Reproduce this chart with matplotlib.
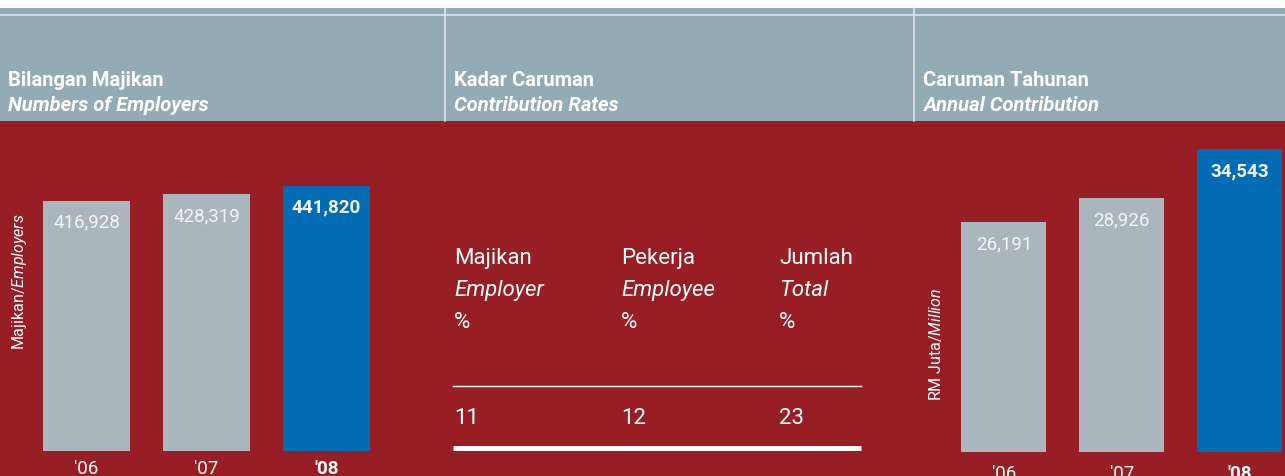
import matplotlib
matplotlib.use("Agg")
import matplotlib.pyplot as plt
from matplotlib.patches import Rectangle

# data
years = ["'06", "'07", "'08"]
employers = [416928, 428319, 441820]
contribution = [26191, 28926, 34543]
rate_heads_my = ["Majikan", "Pekerja", "Jumlah"]
rate_heads_en = ["Employer", "Employee", "Total"]
rates = [11, 12, 23]

# colours
RED = "#971e25"
HEAD = "#94aab4"
GREY = "#a9b6bd"
BLUE = "#016cb4"
LINE = "#dde4e7"

plt.rcParams["font.family"] = ["Roboto", "DejaVu Sans"]
plt.rcParams["mathtext.fontset"] = "custom"
plt.rcParams["mathtext.rm"] = "Roboto"
plt.rcParams["mathtext.it"] = "Roboto:italic"

W, H = 1285, 477
fig = plt.figure(figsize=(W / 100, H / 100), dpi=100)


def box(x0, y0, x1, y1):
    # pixel box -> figure fraction
    return [x0 / W, 1 - y1 / H, (x1 - x0) / W, (y1 - y0) / H]


# background in pixel coordinates
bg = fig.add_axes([0, 0, 1, 1])
bg.set_xlim(0, W)
bg.set_ylim(H, 0)
bg.axis("off")
bg.add_patch(Rectangle((0, 9), W, 113, color=HEAD, lw=0))
bg.add_patch(Rectangle((0, 122), W, H - 122, color=RED, lw=0))
bg.plot([0, W], [16, 16], color=LINE, lw=1.2)
for xv in [445, 914]:
    bg.plot([xv, xv], [9, 122], color=LINE, lw=1.2)

# header titles
titles = [(8, "Bilangan Majikan", "Numbers of Employers"),
          (454, "Kadar Caruman", "Contribution Rates"),
          (923, "Caruman Tahunan", "Annual Contribution")]
for x, my, en in titles:
    bg.text(x, 86, my, color="white", fontsize=14.5, fontweight="bold", va="baseline")
    bg.text(x, 111, en, color="white", fontsize=14.5, fontweight="bold",
            style="italic", va="baseline")

# contribution rates table
cols = [454, 621, 779]
for x, my, en, r in zip(cols, rate_heads_my, rate_heads_en, rates):
    bg.text(x, 264, my, color="white", fontsize=16, va="baseline")
    bg.text(x, 296, en, color="white", fontsize=16, style="italic", va="baseline")
    bg.text(x, 328, "%", color="white", fontsize=16, va="baseline")
    bg.text(x, 424, str(r), color="white", fontsize=16, va="baseline")
bg.plot([453, 861], [386.5, 386.5], color="white", lw=1)
bg.plot([453, 861], [449, 449], color="white", lw=3.6, solid_capstyle="butt")

# rotated axis labels
bg.text(20, 282, "Majikan/$\\mathit{Employers}$", color="white", fontsize=11.5,
        rotation=90, ha="center", va="center")
bg.text(936, 344, "RM Juta/$\\mathit{Million}$", color="white", fontsize=11.5,
        rotation=90, ha="center", va="center")


def bar_panel(rect, values, ymax, xmax, pad, width):
    ax = fig.add_axes(rect)
    ax.patch.set_alpha(0)
    colors = [GREY, GREY, BLUE]
    x = range(len(values))
    ax.bar(x, values, width=width, color=colors, lw=0)
    ax.set_xlim(-0.5, xmax)
    ax.set_ylim(0, ymax)
    for i, v in enumerate(values):
        bold = i == len(values) - 1
        ax.annotate(f"{v:,}", (i, v), xytext=(0, -21 * 0.72), textcoords="offset points",
                    ha="center", va="center", color="#f4f4f4", fontsize=13.5,
                    fontweight="bold" if bold else "normal")
    ax.set_xticks(list(x))
    ax.set_xticklabels(years, color="white", fontsize=13.5)
    ax.get_xticklabels()[-1].set_fontweight("bold")
    ax.tick_params(axis="x", length=0, pad=pad)
    ax.set_yticks([])
    for s in ax.spines.values():
        s.set_visible(False)
    return ax


# panel 1: employers
bar_panel(box(26.5, 122, 386.5, 452), employers, 550000, 2.5, 6.0, 0.725)
# panel 3: annual contribution (year labels run off the bottom edge, as in the original)
bar_panel(box(945.1, 122, 1285, 453), contribution, 37730, 2.387, 9.0, 0.722)

fig.savefig("out.png", dpi=100)
